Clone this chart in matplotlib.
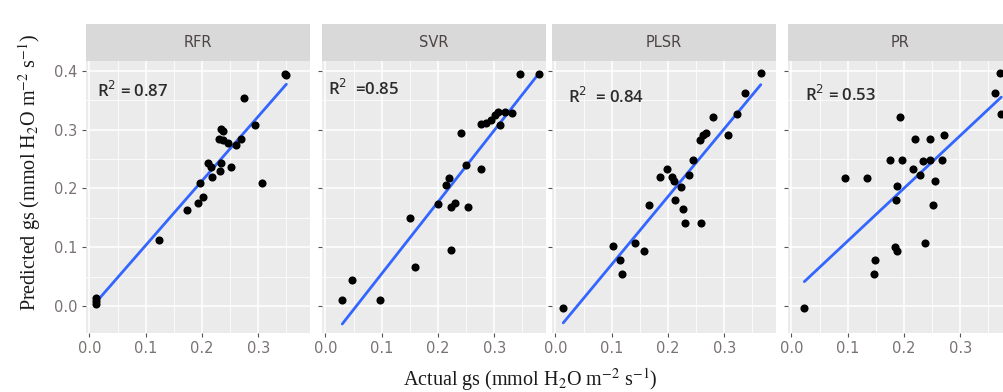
import numpy as np
import matplotlib
matplotlib.use("Agg")
import matplotlib.pyplot as plt
from matplotlib.ticker import MultipleLocator, FormatStrFormatter

plt.rcParams["mathtext.fontset"] = "stix"

# Actual vs predicted stomatal conductance for each model
models = ["RFR", "SVR", "PLSR", "PR"]
r2_labels = ["R$^2$ = 0.87", "R$^2$  =0.85", "R$^2$  = 0.84", "R$^2$ = 0.53"]

rfr_actual = [0.012, 0.012, 0.011, 0.123, 0.174, 0.193, 0.201, 0.196, 0.211, 0.216,
              0.217, 0.232, 0.234, 0.234, 0.237, 0.231, 0.238, 0.246, 0.251, 0.261,
              0.269, 0.274, 0.295, 0.307, 0.350, 0.348]
rfr_pred = [0.008, 0.013, 0.004, 0.112, 0.163, 0.176, 0.186, 0.209, 0.244, 0.237,
            0.220, 0.229, 0.243, 0.302, 0.297, 0.285, 0.283, 0.277, 0.237, 0.274,
            0.285, 0.354, 0.308, 0.210, 0.393, 0.395]

svr_actual = [0.030, 0.047, 0.097, 0.151, 0.160, 0.200, 0.223, 0.215, 0.220, 0.223,
              0.231, 0.241, 0.249, 0.254, 0.276, 0.277, 0.286, 0.295, 0.302, 0.306,
              0.310, 0.319, 0.331, 0.346, 0.380]
svr_pred = [0.010, 0.044, 0.010, 0.149, 0.067, 0.174, 0.095, 0.206, 0.217, 0.169,
            0.176, 0.295, 0.240, 0.169, 0.234, 0.309, 0.311, 0.317, 0.325, 0.331,
            0.308, 0.331, 0.328, 0.395, 0.395]

plsr_actual = [0.014, 0.103, 0.115, 0.118, 0.141, 0.158, 0.166, 0.186, 0.198, 0.208,
               0.211, 0.213, 0.223, 0.226, 0.230, 0.238, 0.244, 0.257, 0.263, 0.268,
               0.259, 0.280, 0.307, 0.322, 0.337, 0.365]
plsr_pred = [-0.004, 0.102, 0.079, 0.054, 0.108, 0.093, 0.172, 0.219, 0.234, 0.220,
             0.212, 0.180, 0.203, 0.165, 0.142, 0.223, 0.249, 0.283, 0.291, 0.295,
             0.141, 0.322, 0.291, 0.327, 0.362, 0.396]

pr_actual = [0.023, 0.095, 0.134, 0.149, 0.147, 0.175, 0.184, 0.187, 0.186, 0.188,
             0.193, 0.197, 0.216, 0.220, 0.228, 0.234, 0.237, 0.247, 0.247, 0.251,
             0.255, 0.268, 0.272, 0.362, 0.371, 0.373]
pr_pred = [-0.004, 0.218, 0.218, 0.079, 0.054, 0.249, 0.101, 0.093, 0.180, 0.204,
           0.322, 0.249, 0.234, 0.284, 0.223, 0.246, 0.108, 0.284, 0.249, 0.172,
           0.212, 0.249, 0.291, 0.362, 0.397, 0.327]

actual = [rfr_actual, svr_actual, plsr_actual, pr_actual]
predicted = [rfr_pred, svr_pred, plsr_pred, pr_pred]

# R2 label anchor (left edge, vertical centre) in data units
label_x = [0.0135, 0.005, 0.022, 0.024]
label_y = [0.366, 0.369, 0.356, 0.359]

W, H = 1004, 392
fig = plt.figure(figsize=(W / 100, H / 100), dpi=100)

panel_left = [86, 322, 552, 788]
panel_w = 224
panel_top, panel_bot = 61, 333
strip_top = 24

panel_bg = "#EBEBEB"
strip_bg = "#D9D9D9"
tick_col = "#7A7272"

for i, name in enumerate(models):
    ax = fig.add_axes([panel_left[i] / W, (H - panel_bot) / H,
                       panel_w / W, (panel_bot - panel_top) / H])
    ax.set_facecolor(panel_bg)
    for s in ax.spines.values():
        s.set_visible(False)
    ax.set_xlim(-0.006, 0.392)
    ax.set_ylim(-0.046, 0.417)
    ax.xaxis.set_major_locator(MultipleLocator(0.1))
    ax.xaxis.set_minor_locator(MultipleLocator(0.05))
    ax.yaxis.set_major_locator(MultipleLocator(0.1))
    ax.yaxis.set_minor_locator(MultipleLocator(0.05))
    ax.grid(which="major", color="white", linewidth=1.1)
    ax.grid(which="minor", color="white", linewidth=0.55)
    ax.set_axisbelow(True)
    ax.tick_params(which="major", length=3, width=0.8, color="#555555",
                   labelsize=10.5, labelcolor=tick_col, pad=3)
    ax.tick_params(which="minor", length=0)
    ax.xaxis.set_major_formatter(FormatStrFormatter("%.1f"))
    ax.yaxis.set_major_formatter(FormatStrFormatter("%.1f"))
    if i > 0:
        ax.tick_params(axis="y", labelleft=False)

    xa = np.array(actual[i])
    ya = np.array(predicted[i])
    slope, intercept = np.polyfit(xa, ya, 1)
    xs = np.array([xa.min(), xa.max()])
    ax.plot(xs, intercept + slope * xs, color="#3366FF", linewidth=2.0,
            solid_capstyle="round", zorder=2)
    ax.scatter(xa, ya, s=34, color="black", zorder=3, linewidths=0)

    ax.text(label_x[i], label_y[i], r2_labels[i], ha="left", va="center",
            fontsize=12, color="#2b2b2b", family="Open Sans",
            fontweight="semibold", math_fontfamily="dejavusans")

    # facet strip
    sax = fig.add_axes([panel_left[i] / W, (H - panel_top) / H,
                        panel_w / W, (panel_top - strip_top) / H])
    sax.set_facecolor(strip_bg)
    sax.set_xticks([])
    sax.set_yticks([])
    for s in sax.spines.values():
        s.set_visible(False)
    sax.text(0.5, 0.5, name, ha="center", va="center", fontsize=10.5,
             color="#4D4444", transform=sax.transAxes)

unit = r"(mmol H$_2$O m$^{-2}$ s$^{-1}$)"
fig.text(530 / W, 1 - 380 / H, "Actual gs " + unit,
         ha="center", va="center", fontsize=14.5, family="Liberation Serif",
         color="#1a1a1a")
fig.text(30 / W, 1 - 172 / H, "Predicted gs " + unit,
         ha="center", va="center", rotation=90, fontsize=14.5,
         family="Liberation Serif", color="#1a1a1a")

fig.savefig("out.png", dpi=100)
